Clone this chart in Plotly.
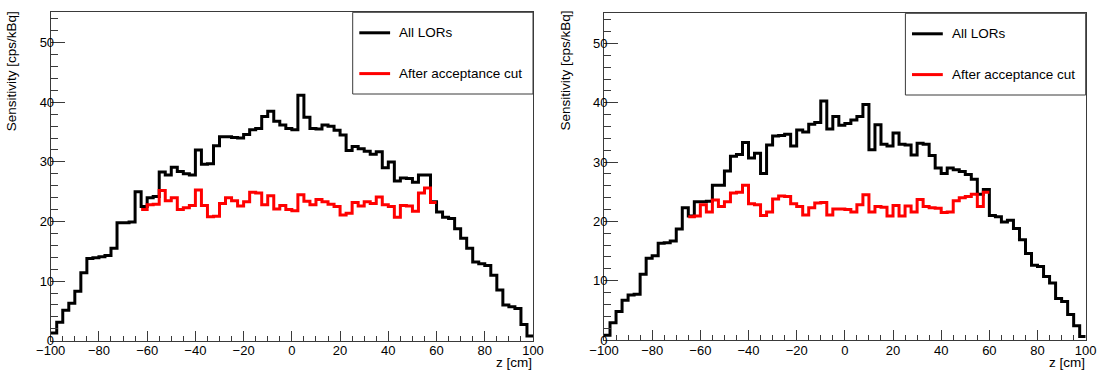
import numpy as np
import plotly.graph_objects as go

# ---------------- data ----------------
z_edges = np.linspace(-100, 100, 81)          # 80 bins of 2.5 cm

left_all = [1.3, 3.1, 5.1, 6.3, 8.3, 11.4, 13.8, 13.9, 14.1, 14.3,
            15.5, 19.8, 19.8, 19.9, 25.0, 22.5, 24.0, 24.2, 28.3, 27.8,
            29.1, 28.4, 28.0, 27.8, 32.0, 29.6, 29.7, 32.7, 34.2, 34.2,
            34.1, 34.0, 34.6, 35.4, 35.6, 37.6, 38.5, 36.8, 36.2, 35.6,
            35.4, 41.2, 37.5, 35.6, 35.5, 36.2, 36.0, 35.3, 34.5, 31.9,
            32.6, 32.2, 31.8, 31.3, 31.7, 29.0, 30.0, 26.8, 27.3, 27.2,
            26.6, 27.8, 27.8, 23.3, 21.6, 20.7, 20.5, 18.8, 17.2, 15.5,
            13.2, 12.9, 12.6, 11.0, 8.5, 6.0, 5.7, 5.4, 2.7, 0.8]

left_cut = [None] * 15 + [
            22.0, 22.8, 22.9, 25.2, 23.5, 24.0, 22.0, 22.3, 22.7, 25.3,
            22.7, 20.8, 20.9, 23.0, 24.0, 23.5, 22.6, 23.3, 24.9, 24.8,
            22.8, 24.3, 22.1, 22.7, 22.0, 21.8, 24.5, 23.4, 22.8, 23.7,
            23.3, 22.9, 22.5, 21.1, 21.4, 23.2, 22.6, 23.3, 23.0, 24.1,
            22.8, 22.5, 20.7, 22.7, 22.6, 21.7, 24.8, 25.6, 23.2] + [None] * 16

right_all = [0.8, 2.9, 4.8, 6.7, 7.6, 7.7, 11.1, 13.8, 14.2, 16.3,
             16.4, 16.7, 18.7, 22.3, 20.9, 23.3, 23.3, 23.4, 26.1, 26.1,
             28.5, 31.0, 31.3, 33.3, 30.7, 31.5, 28.1, 32.9, 34.4, 34.5,
             34.7, 32.7, 35.4, 35.1, 36.4, 36.7, 40.3, 35.6, 37.7, 36.2,
             36.5, 37.1, 37.7, 39.7, 32.1, 36.3, 33.0, 32.7, 34.9, 33.0,
             32.9, 31.2, 33.2, 33.0, 31.1, 29.0, 28.1, 29.0, 28.7, 28.4,
             27.9, 27.1, 24.6, 25.4, 21.0, 20.8, 19.9, 20.2, 18.8, 16.9,
             14.6, 12.6, 12.4, 10.7, 9.6, 7.0, 6.5, 4.3, 2.4, 0.6]

right_cut = [None] * 14 + [
             20.8, 20.9, 22.8, 21.6, 23.6, 22.5, 23.3, 24.8, 24.9, 26.1,
             23.0, 22.8, 21.0, 21.6, 23.8, 24.3, 24.2, 23.0, 22.5, 21.1,
             22.3, 23.1, 23.2, 21.1, 22.1, 22.1, 22.0, 21.6, 22.8, 24.5,
             21.6, 22.5, 22.4, 20.9, 22.7, 20.9, 22.6, 21.6, 23.7, 22.5,
             22.3, 22.2, 21.5, 21.6, 23.5, 24.0, 24.2, 24.6, 22.5, 24.9] + [None] * 16

series_names = ["All LORs", "After acceptance cut"]
y_title = "Sensitivity [cps/kBq]"
x_title = "z [cm]"


def steps(vals):
    idx = [i for i, v in enumerate(vals) if v is not None]
    xs = [float(z_edges[i]) for i in idx] + [float(z_edges[idx[-1] + 1])]
    ys = [vals[i] for i in idx] + [vals[idx[-1]]]
    return xs, ys


# ---------------- figure ----------------
W, H = 1101, 372
FONT = "Liberation Sans, Arial, Helvetica, sans-serif"
FRAME = "#3a3a3a"

fig = go.Figure()

panels = [
    dict(all=left_all, cut=left_cut, xa="x", ya="y",
         px=(50.7, 533.0), py=(12.3, 340.7)),
    dict(all=right_all, cut=right_cut, xa="x2", ya="y2",
         px=(604.0, 1085.7), py=(13.3, 340.0)),
]

for p in panels:
    for vals, col, name in ((p["all"], "#000000", series_names[0]),
                            (p["cut"], "#ff0000", series_names[1])):
        xs, ys = steps(vals)
        fig.add_trace(go.Scatter(x=xs, y=ys, mode="lines", name=name,
                                 line=dict(color=col, width=3, shape="hv"),
                                 xaxis=p["xa"], yaxis=p["ya"],
                                 showlegend=False, hoverinfo="skip"))


def xd(px):
    return px / W


def yd(py):
    return 1 - py / H


axis_common = dict(showline=True, mirror=True, linecolor=FRAME, linewidth=1,
                   showgrid=False, zeroline=False, ticks="inside",
                   tickcolor=FRAME, tickwidth=1,
                   tickfont=dict(family=FONT, size=13, color="black"))

layout = dict(width=W, height=H, margin=dict(l=0, r=0, t=0, b=0),
              paper_bgcolor="white", plot_bgcolor="white", template="none",
              font=dict(family=FONT, size=13, color="black"))

shapes, annotations = [], []
for k, p in enumerate(panels):
    sx = "" if k == 0 else "2"
    x0, x1 = p["px"]
    y0, y1 = p["py"]
    layout["xaxis" + sx] = dict(axis_common, domain=[xd(x0), xd(x1)],
                                range=[-100, 100], tick0=-100, dtick=20,
                                ticklen=10, anchor="y" + sx,
                                ticklabelstandoff=-2,
                                minor=dict(dtick=5, ticks="inside", ticklen=5,
                                           tickcolor=FRAME, showgrid=False))
    layout["yaxis" + sx] = dict(axis_common, domain=[yd(y1), yd(y0)],
                                range=[0, 55.1], tick0=0, dtick=10,
                                ticklen=14, anchor="x" + sx,
                                ticklabelstandoff=-7,
                                minor=dict(dtick=2, ticks="inside", ticklen=7,
                                           tickcolor=FRAME, showgrid=False))
    # axis titles (ROOT style: right / top aligned)
    annotations.append(dict(text=x_title, xref="paper", yref="paper",
                            x=xd(x1 + 1), y=yd(362.5), xanchor="right", yanchor="middle",
                            showarrow=False, font=dict(family=FONT, size=13.5)))
    annotations.append(dict(text=y_title, xref="paper", yref="paper",
                            x=xd(x0 - 39.5), y=yd(9), xanchor="center", yanchor="top",
                            textangle=-90, showarrow=False,
                            font=dict(family=FONT, size=13.5)))
    # legend box
    lx0 = x1 - 180.3
    shapes.append(dict(type="rect", xref="paper", yref="paper", layer="above",
                       x0=xd(lx0), x1=xd(x1), y0=yd(y0 + 81.7), y1=yd(y0),
                       line=dict(color=FRAME, width=1), fillcolor="white"))
    for j, (name, col) in enumerate(zip(series_names, ["#000000", "#ff0000"])):
        ly = y0 + 20.5 + 40.8 * j
        shapes.append(dict(type="line", xref="paper", yref="paper", layer="above",
                           x0=xd(lx0 + 6.6), x1=xd(lx0 + 37.4), y0=yd(ly), y1=yd(ly),
                           line=dict(color=col, width=3)))
        annotations.append(dict(text=name, xref="paper", yref="paper",
                                x=xd(lx0 + 44.5), y=yd(ly), xanchor="left",
                                yanchor="middle", showarrow=False,
                                font=dict(family=FONT, size=13.5, color="black")))

layout["shapes"] = shapes
layout["annotations"] = annotations
fig.update_layout(**layout)

fig.write_html("out.html",
               config={"displayModeBar": False},
               post_script="document.body.style.margin='0';document.body.style.padding='0';")
